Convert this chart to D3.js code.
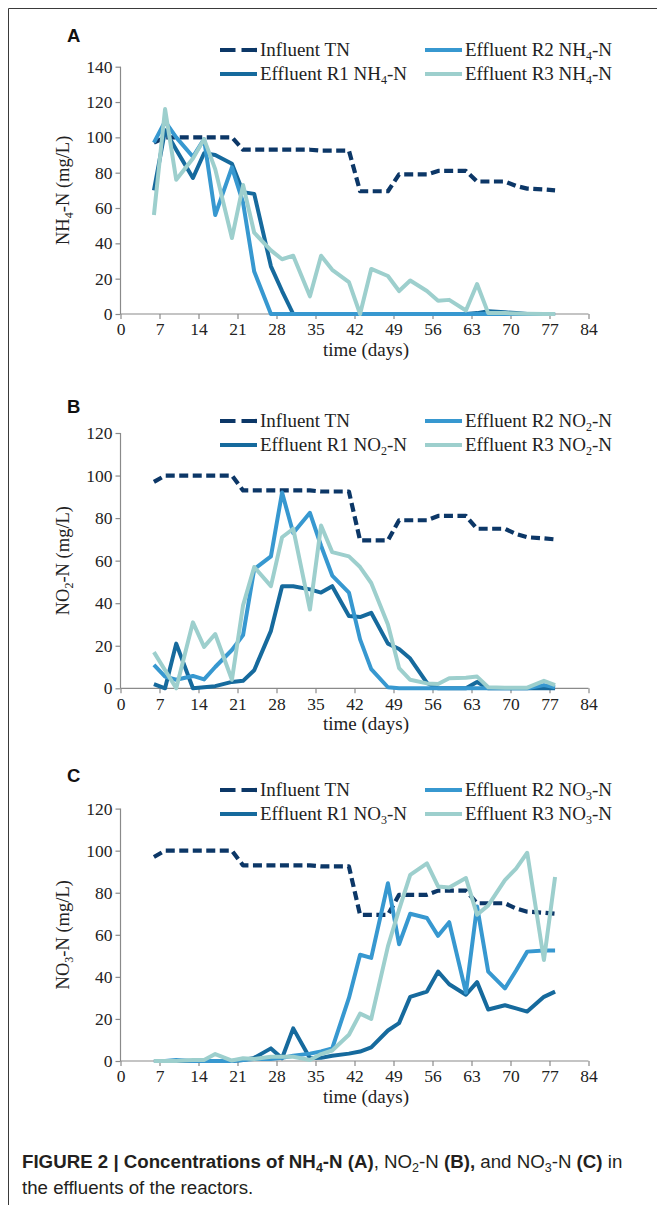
<!DOCTYPE html>
<html><head><meta charset="utf-8">
<script src="https://cdn.jsdelivr.net/npm/d3@7/dist/d3.min.js"></script>
<style>body{margin:0;background:#fff}svg{display:block}</style>
</head><body><script>
// ---- data ----
const days = [6,8,10,13,15,17,20,22,24,27,29,31,34,36,38,41,43,45,48,50,52,55,57,59,62,64,66,69,71,73,76,78];
const influentTN = [97,100,100,100,100,100,100,93,93,93,93,93,93,92.5,92.5,92.5,69.5,69.5,69.5,79,79,79,81,81,81,75,75,75,72.5,71,70.5,70];

const r1NH4 = [70,104,93,77,91,90,85,69,68,27,13,0,0,0,0,0,0,0,0,0,0,0,0,0,0,0.5,1.5,1,0.5,0,0,0];
const r2NH4 = [97,109,100,89,99,56,83,63,24,0,0,0,0,0,0,0,0,0,0,0,0,0,0,0,0,0,0,0,0,0,0,0];
const r3NH4 = [56,116,76,88,99,82,43,73,46,36,31,33,10,33,25,18,0,25.5,21.5,13,19,13,7.5,8,2,17,0.5,0.5,0.3,0.2,0,0];

const r1NO2 = [2,0,21,0,0.5,1,3,3.5,8.5,27,48,48,46.5,45,48,34,33.5,35.5,21,18.5,14,2.5,0,0,0,3,0,0,0,0,0,0];
const r2NO2 = [11,5.5,4,5.8,4.2,10,18,25,56,62,92,73,82.5,67,53,45,23,9,0.5,0,0,0,0,0,0,0,0,0,0,0,1.5,0.5];
const r3NO2 = [17,8.5,0,31,19.5,25.5,4,39,57,48,71,75,37,76.5,64,62,57,49.5,30,9.5,4,2.3,2,4.7,5,5.5,0.5,0.3,0.3,0.3,3.5,1.5];

const r1NO3 = [0,0,0,0,0,0,0,0.5,1.5,6,1.3,15.5,1.3,1.5,2.5,3.5,4.5,6.5,14.5,18,30.5,33,42.5,36.5,31.5,37.5,24.5,26.5,25,23.5,30.5,33];
const r2NO3 = [0,0,0.5,0,0,0,0,0.5,1,1,1.5,2.5,3.5,4.5,6,30,50.5,49,84.5,55.5,70,68,59.5,66,32.5,73.5,42.5,34.5,43,52,52.5,52.5];
const r3NO3 = [0,0,0,0.5,0.5,3.3,0.2,1.3,1,2,2,2,0.5,3.3,5,12.5,22.5,20,54.5,72,88.5,94,83,82.5,87,69.5,74,86,91.5,99,48,87.5];

const xTicks = [0,7,14,21,28,35,42,49,56,63,70,77,84];
const yTicksA = [0,20,40,60,80,100,120,140];
const yTicksBC = [0,20,40,60,80,100,120];
const panelLetters = ["A","B","C"];
const speciesBase = ["NH","NO","NO"];
const speciesSub = ["4","2","3"];
const influentLabel = "Influent TN";
const reactorLabels = ["Effluent R1","Effluent R2","Effluent R3"];
const xTitle = "time (days)";
const yUnit = "-N (mg/L)";

// ---- layout / style ----
const W = 657, H = 1205;
const colTN = "#0c3767", colR = ["#166a9d","#3798d0","#9dcfcd"];
const serif = "'Liberation Serif','Times New Roman',serif";
const sans = "'Liberation Sans',Arial,sans-serif";
const axisCol = "#8a8a8a";

const svg = d3.select("body").append("svg").attr("width", W).attr("height", H);

// frame
svg.append("line").attr("x1",8.5).attr("x2",W).attr("y1",8.5).attr("y2",8.5).attr("stroke","#3a3a3a").attr("stroke-width",1);
svg.append("line").attr("x1",8.5).attr("x2",8.5).attr("y1",8.5).attr("y2",H).attr("stroke","#3a3a3a").attr("stroke-width",1);

const x = d3.scaleLinear().domain([0,84]).range([120.5,588.5]);

const panels = [
  {off:0,   yTop:66.7,  y0:314,   ymax:140, ticks:yTicksA,  s:[r1NH4,r2NH4,r3NH4]},
  {off:371, yTop:433,   y0:688.3, ymax:120, ticks:yTicksBC, s:[r1NO2,r2NO2,r3NO2]},
  {off:740, yTop:808.6, y0:1061,  ymax:120, ticks:yTicksBC, s:[r1NO3,r2NO3,r3NO3]}
];

function subText(sel, parts, subSize, shift){
  let prevSub = false;
  parts.forEach(([t,isSub])=>{
    const ts = sel.append("tspan").text(t);
    if(isSub){ ts.attr("font-size",subSize).attr("dy",shift); prevSub = true; }
    else if(prevSub){ ts.attr("dy",-shift); prevSub = false; }
  });
}

panels.forEach((p,i)=>{
  const g = svg.append("g");
  const y = d3.scaleLinear().domain([0,p.ymax]).range([p.y0,p.yTop]);

  // axes
  const ya = g.append("g").attr("transform",`translate(${x(0)},0)`)
    .call(d3.axisLeft(y).tickValues(p.ticks).tickSize(5).tickPadding(3).tickFormat(d3.format("d")));
  const xa = g.append("g").attr("transform",`translate(0,${p.y0})`)
    .call(d3.axisBottom(x).tickValues(xTicks).tickSize(5).tickPadding(4).tickFormat(d3.format("d")));
  [ya,xa].forEach(a=>{
    a.select(".domain").attr("stroke",axisCol).attr("stroke-width",1.2);
    a.selectAll(".tick line").attr("stroke",axisCol).attr("stroke-width",1.2);
    a.selectAll(".tick text").attr("font-family",serif).attr("font-size",17.5).attr("fill","#222");
  });
  ya.select(".domain").attr("d",`M-0,${p.y0}V${p.yTop}`);
  xa.select(".domain").attr("d",`M${x(0)},0H${x(84)}`);

  // lines
  const line = d3.line().x((d,k)=>x(days[k])).y(d=>y(d));
  g.append("path").datum(influentTN).attr("d",line).attr("fill","none")
    .attr("stroke",colTN).attr("stroke-width",4.2).attr("stroke-dasharray","9,4.5").attr("stroke-linejoin","round");
  p.s.forEach((arr,j)=>{
    g.append("path").datum(arr).attr("d",line).attr("fill","none")
      .attr("stroke",colR[j]).attr("stroke-width",4).attr("stroke-linejoin","round");
  });

  // panel letter
  g.append("text").attr("x",67).attr("y",42+p.off).attr("font-family",sans).attr("font-weight","bold")
    .attr("font-size",18.5).attr("fill","#111").text(panelLetters[i]);

  // y title
  const yt = g.append("text").attr("transform",`translate(69,${(p.y0+p.yTop)/2}) rotate(-90)`)
    .attr("text-anchor","middle").attr("font-family",serif).attr("font-size",18.5).attr("fill","#222");
  subText(yt, [[speciesBase[i],false],[speciesSub[i],true],[yUnit,false]], 12, 4);

  // x title
  g.append("text").attr("x",366).attr("y",p.y0+42).attr("text-anchor","middle")
    .attr("font-family",serif).attr("font-size",19).attr("fill","#222").text(xTitle);

  // legend
  const items = [
    {col:0,row:0,label:null,dash:true,color:colTN},
    {col:1,row:0,label:reactorLabels[1],color:colR[1]},
    {col:0,row:1,label:reactorLabels[0],color:colR[0]},
    {col:1,row:1,label:reactorLabels[2],color:colR[2]}
  ];
  const colX = [220,425];
  items.forEach(it=>{
    const bx = colX[it.col], by = 56 + it.row*24 + p.off;
    g.append("line").attr("x1",bx).attr("x2",bx+37).attr("y1",by-6).attr("y2",by-6)
      .attr("stroke",it.color).attr("stroke-width",4.2)
      .attr("stroke-dasharray",it.dash?"15.5,6":null);
    const t = g.append("text").attr("x",bx+40).attr("y",by).attr("font-family",serif).attr("font-size",19).attr("fill","#222");
    if(it.dash) t.text(influentLabel);
    else subText(t, [[it.label+" "+speciesBase[i],false],[speciesSub[i],true],["-N",false]], 12, 4);
  });
});

// caption
const cap = svg.append("text").attr("x",22).attr("y",1168).attr("font-family",sans).attr("font-size",18.7).attr("fill","#231f20");
const capParts = [
  ["FIGURE 2 | Concentrations of NH","b",0],["4","b",1],["-N (A)","b",0],
  [", NO","n",0],["2","n",1],["-N ","n",0],["(B),","b",0],[" and NO","n",0],["3","n",1],["-N ","n",0],["(C)","b",0],[" in","n",0]
];
let prevSub = false;
capParts.forEach(([t,w,s])=>{
  const ts = cap.append("tspan").text(t).attr("font-weight", w==="b"?"bold":"normal");
  if(s){ ts.attr("font-size",12.5).attr("dy",4); prevSub=true; }
  else if(prevSub){ ts.attr("dy",-4); prevSub=false; }
});
svg.append("text").attr("x",22).attr("y",1194).attr("font-family",sans).attr("font-size",18.7).attr("fill","#231f20")
  .text("the effluents of the reactors.");
</script></body></html>
